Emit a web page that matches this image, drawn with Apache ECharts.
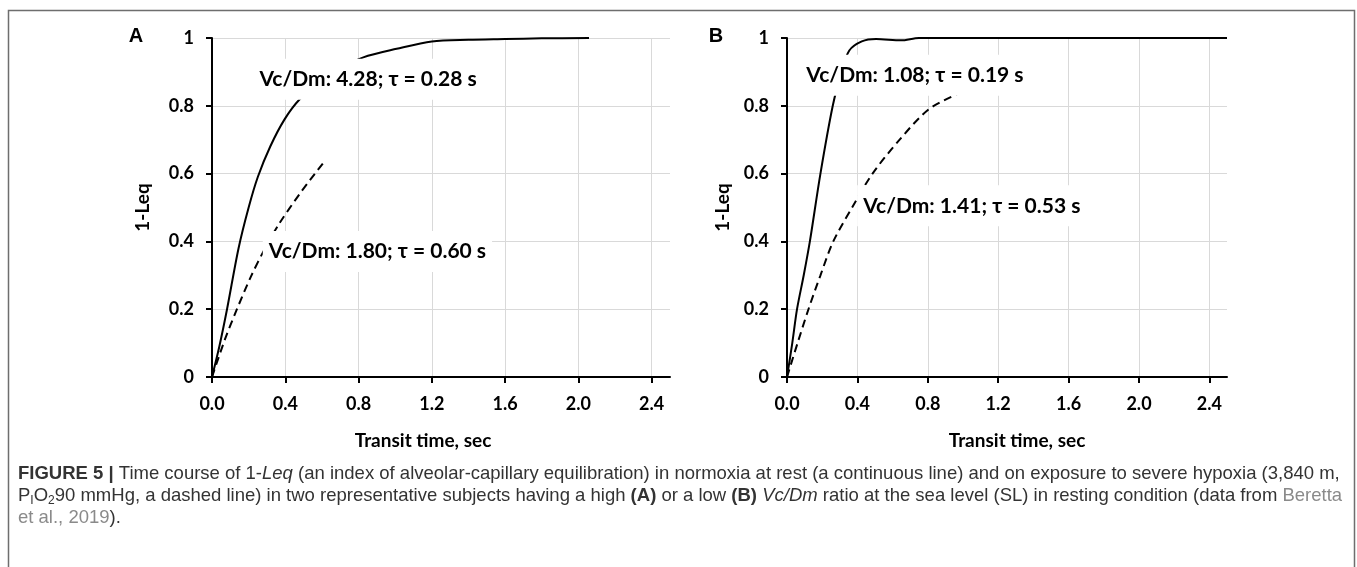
<!DOCTYPE html>
<html>
<head>
<meta charset="utf-8">
<script src="https://cdn.jsdelivr.net/npm/echarts@6/dist/echarts.min.js"></script>
<style>
  html, body { margin: 0; padding: 0; background: #fff; }
  #chart { width: 1357px; height: 567px; }
</style>
</head>
<body>
<div id="chart"></div>
<script>
// panel A: high Vc/Dm subject
const timeSolidA = [0, 0.04, 0.082, 0.145, 0.2, 0.25, 0.318, 0.396, 0.48, 0.6, 0.7, 0.826, 1.008, 1.2, 1.4, 1.6, 1.8, 2.058];
const valSolidA  = [0, 0.09, 0.2, 0.38, 0.5, 0.59, 0.68, 0.76, 0.82, 0.875, 0.91, 0.943, 0.968, 0.99, 0.995, 0.997, 0.999, 1];
const timeDashA  = [0, 0.07, 0.136, 0.213, 0.29, 0.363, 0.481, 0.608];
const valDashA   = [0, 0.11, 0.2, 0.297, 0.38, 0.449, 0.542, 0.632];

// panel B: low Vc/Dm subject
const timeSolidB = [0, 0.03, 0.057, 0.095, 0.13, 0.19, 0.26, 0.31, 0.354, 0.425, 0.506, 0.648, 0.75, 1.0, 1.5, 2.0, 2.5];
const valSolidB  = [0, 0.1, 0.2, 0.3, 0.4, 0.6, 0.8, 0.9, 0.963, 0.99, 0.997, 0.993, 1, 1, 1, 1, 1];
const timeDashB  = [0, 0.06, 0.122, 0.19, 0.263, 0.37, 0.486, 0.64, 0.806, 0.982];
const valDashB   = [0, 0.1, 0.2, 0.3, 0.4, 0.5, 0.6, 0.7, 0.79, 0.838];

const xTicks = [0, 0.4, 0.8, 1.2, 1.6, 2.0, 2.4];

const notesA = ['Vc/Dm: 4.28; τ = 0.28 s', 'Vc/Dm: 1.80; τ = 0.60 s'];
const notesB = ['Vc/Dm: 1.08; τ = 0.19 s', 'Vc/Dm: 1.41; τ = 0.53 s'];

const chartFont = 'Lato, "Open Sans", sans-serif';
const capFont = '"Liberation Sans", Arial, sans-serif';
const capSize = 18.5;

function pairs(xs, ys) {
  return xs.map((x, i) => [x, ys[i]]);
}

function xAxisFor(idx, pad) {
  return {
    type: 'value', gridIndex: idx, min: 0, max: 2.5, interval: 0.4,
    name: 'Transit time, sec', nameLocation: 'middle', nameGap: 54,
    nameTextStyle: { fontFamily: chartFont, fontWeight: 'bold', fontSize: 19, color: '#000', padding: pad },
    axisLine: { onZero: false, lineStyle: { color: '#000', width: 2 } },
    axisTick: { show: true, length: 6, customValues: xTicks, lineStyle: { color: '#000', width: 2 } },
    splitLine: { show: true, lineStyle: { color: '#d9d9d9', width: 1 } },
    axisLabel: {
      margin: 18, fontFamily: chartFont, fontWeight: 'bold', fontSize: 18, color: '#000',
      customValues: xTicks,
      formatter: v => (Math.abs(v / 0.4 - Math.round(v / 0.4)) < 1e-6 ? v.toFixed(1) : '')
    }
  };
}

function yAxisFor(idx, gap) {
  return {
    type: 'value', gridIndex: idx, min: 0, max: 1, interval: 0.2,
    name: '1-Leq', nameLocation: 'middle', nameGap: gap, nameRotate: 90,
    nameTextStyle: { fontFamily: chartFont, fontWeight: 'bold', fontSize: 19, color: '#000' },
    axisLine: { show: true, lineStyle: { color: '#000', width: 2 } },
    axisTick: { show: true, length: 6, lineStyle: { color: '#000', width: 2 } },
    splitLine: { show: true, lineStyle: { color: '#d9d9d9', width: 1 } },
    axisLabel: { margin: 18, fontFamily: chartFont, fontWeight: 'bold', fontSize: 18, color: '#000' }
  };
}

function curve(idx, data, dashed) {
  return {
    type: 'line', xAxisIndex: idx, yAxisIndex: idx, data: data,
    smooth: 0.3, symbol: 'none', z: 2, silent: true,
    lineStyle: { color: '#000', width: 2, type: dashed ? [8, 5] : 'solid' }
  };
}

function notes(idx, items) {
  return {
    type: 'scatter', xAxisIndex: idx, yAxisIndex: idx, symbolSize: 0, z: 10, silent: true,
    itemStyle: { opacity: 1 },
    data: items,
    label: {
      show: true, position: 'inside', formatter: p => p.name, opacity: 1,
      backgroundColor: '#fff', padding: [10, 6],
      fontFamily: chartFont, fontWeight: 'bold', fontSize: 21, color: '#000'
    }
  };
}

const chart = echarts.init(document.getElementById('chart'));

chart.setOption({
  animation: false,
  backgroundColor: '#fff',
  grid: [
    { left: 212, top: 38, width: 458, height: 339 },
    { left: 787, top: 38, width: 440, height: 339 }
  ],
  xAxis: [xAxisFor(0, [0, 36, 0, 0]), xAxisFor(1, [0, 0, 0, 20])],
  yAxis: [yAxisFor(0, 60), yAxisFor(1, 55)],
  series: [
    curve(0, pairs(timeSolidA, valSolidA), false),
    curve(0, pairs(timeDashA, valDashA), true),
    curve(1, pairs(timeSolidB, valSolidB), false),
    curve(1, pairs(timeDashB, valDashB), true),
    notes(0, [
      { name: notesA[0], value: [0.852, 0.878] },
      { name: notesA[1], value: [0.903, 0.37] }
    ]),
    notes(1, [
      { name: notesB[0], value: [0.727, 0.89] },
      { name: notesB[1], value: [1.05, 0.505] }
    ])
  ],
  graphic: [
    { type: 'rect', shape: { x: 8.5, y: 10.5, width: 1346, height: 600 },
      style: { fill: 'none', stroke: '#6e6e6e', lineWidth: 1.5 }, silent: true },
    { type: 'text', style: { x: 136, y: 36, text: 'A', align: 'center', verticalAlign: 'middle',
      font: 'bold 20px ' + capFont, fill: '#000' } },
    { type: 'text', style: { x: 716, y: 36, text: 'B', align: 'center', verticalAlign: 'middle',
      font: 'bold 20px ' + capFont, fill: '#000' } },
    { type: 'text', style: {
      x: 18, y: 474, verticalAlign: 'middle',
      text: '{b|FIGURE 5 |} Time course of 1-{i|Leq} (an index of alveolar-capillary equilibration) in normoxia at rest (a continuous line) and on exposure to severe hypoxia (3,840 m,',
      fontFamily: capFont, fontSize: capSize, fill: '#333', lineHeight: 22,
      rich: { b: { fontWeight: 'bold', fontSize: capSize }, i: { fontStyle: 'italic', fontSize: capSize } }
    } },
    { type: 'text', style: {
      x: 18, y: 496, verticalAlign: 'middle',
      text: 'P{sub|I}O{sub|2}90 mmHg, a dashed line) in two representative subjects having a high {b|(A)} or a low {b|(B)} {i|Vc/Dm} ratio at the sea level (SL) in resting condition (data from {link|Beretta}',
      fontFamily: capFont, fontSize: capSize, fill: '#333', lineHeight: 22,
      rich: {
        b: { fontWeight: 'bold', fontSize: capSize },
        i: { fontStyle: 'italic', fontSize: capSize },
        sub: { fontSize: 12, lineHeight: 12, verticalAlign: 'bottom' },
        link: { fill: '#8a8a8a', fontSize: capSize }
      }
    } },
    { type: 'text', style: {
      x: 18, y: 518, verticalAlign: 'middle',
      text: '{link|et al., 2019}).',
      fontFamily: capFont, fontSize: capSize, fill: '#333', lineHeight: 22,
      rich: { link: { fill: '#8a8a8a', fontSize: capSize } }
    } }
  ]
});
</script>
</body>
</html>
